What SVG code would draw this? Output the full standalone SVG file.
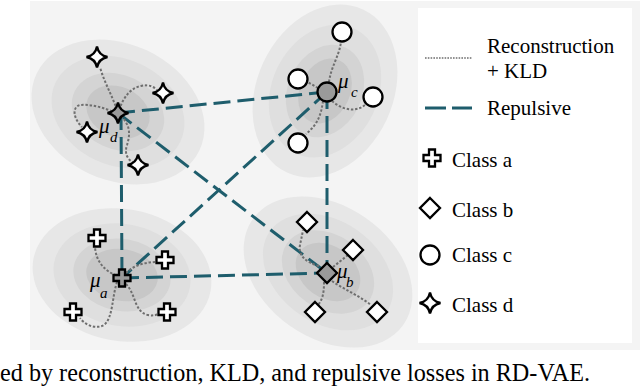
<svg xmlns="http://www.w3.org/2000/svg" width="640" height="386" viewBox="0 0 640 386">
<defs>
<style>
.l1{fill:#e7e7e7}.l2{fill:#dfdfdf}.l3{fill:#d4d4d4}.l4{fill:#c7c7c7}
.rep{fill:none;stroke:#1e5d6c;stroke-width:3;stroke-dasharray:17 7}
.dot{fill:none;stroke:#6e6e6e;stroke-width:2;stroke-dasharray:2.4 1.8}
.sym{fill:#fff;stroke:#000;stroke-width:2.3;stroke-linejoin:miter}
.mean{fill:#9a9a9a;stroke:#000;stroke-width:2.3}
</style>
<path id="star" d="M0,-10.5 Q1.7,-1.7 10.5,0 Q1.7,1.7 0,10.5 Q-1.7,1.7 -10.5,0 Q-1.7,-1.7 0,-10.5Z"/>
<path id="cross" d="M-3,-8.5 H3 V-3 H8.5 V3 H3 V8.5 H-3 V3 H-8.5 V-3 H-3Z"/>
<path id="diam" d="M0,-10 L10,0 L0,10 L-10,0Z"/>
</defs>
<rect x="30" y="1" width="610" height="349" fill="#f4f4f4"/>
<rect x="418" y="8" width="214" height="335" fill="#fff"/>

<g id="ellipses">
<g transform="translate(118,112) rotate(25)">
<ellipse class="l1" rx="90" ry="68"/><ellipse class="l2" rx="69" ry="53"/><ellipse class="l3" rx="48" ry="37"/><ellipse class="l4" rx="33" ry="25"/>
</g>
<g transform="translate(325,91) rotate(25)">
<ellipse class="l1" rx="68" ry="90"/><ellipse class="l2" rx="53" ry="69"/><ellipse class="l3" rx="37" ry="48"/><ellipse class="l4" rx="25" ry="34"/>
</g>
<g transform="translate(122,275) rotate(10)">
<ellipse class="l1" rx="90" ry="66"/><ellipse class="l2" rx="69" ry="51"/><ellipse class="l3" rx="49" ry="36"/><ellipse class="l4" rx="36" ry="26"/>
</g>
<g transform="translate(328,272) rotate(35)">
<ellipse class="l1" rx="92" ry="66"/><ellipse class="l2" rx="71" ry="51"/><ellipse class="l3" rx="50" ry="37"/><ellipse class="l4" rx="35" ry="26"/>
</g>
</g>

<g id="connectors">
<line class="rep" x1="118" y1="113" x2="327" y2="92"/>
<line class="rep" x1="121" y1="113" x2="122" y2="278"/>
<line class="rep" x1="118" y1="113" x2="327" y2="273"/>
<line class="rep" x1="327" y1="92" x2="122" y2="278"/>
<line class="rep" x1="327" y1="92" x2="327" y2="273"/>
<line class="rep" x1="122" y1="278" x2="327" y2="273"/>
<path class="dot" d="M117,110 C112,95 104,82 100,67"/>
<path class="dot" d="M119,110 C124,96 131,88 141,86 C149,84 154,87 157,90"/>
<path class="dot" d="M116,113 C105,108 92,104 80,105 C72,107 73,118 82,127"/>
<path class="dot" d="M121,116 C131,126 130,135 127,145 C124,154 128,160 134,163"/>
<path class="dot" d="M329,82 C331,66 340,55 341,41"/>
<path class="dot" d="M318,88 L306,81"/>
<path class="dot" d="M332,101 C342,110 357,113 366,104"/>
<path class="dot" d="M323,101 C321,115 318,124 306,134"/>
<path class="dot" d="M120,277 C105,272 96,262 95,247"/>
<path class="dot" d="M126,273 C134,265 146,262 157,262"/>
<path class="dot" d="M117,282 C112,297 113,318 104,325 C95,330 84,324 80,318"/>
<path class="dot" d="M126,284 C136,294 134,312 148,315 C153,316 156,315 159,314"/>
<path class="dot" d="M319,266 C305,262 298,255 300,245 C301,240 302,236 303,230"/>
<path class="dot" d="M333,267 L348,255"/>
<path class="dot" d="M324,282 C324,292 323,299 318,305"/>
<path class="dot" d="M332,281 C345,290 360,296 371,305"/>
</g>

<g font-family="'Liberation Serif','Times New Roman',serif" font-style="italic" fill="#000">
<g id="class-d">
<use href="#star" class="sym" x="97" y="57"/>
<use href="#star" class="sym" x="163" y="93"/>
<use href="#star" class="sym" x="87" y="132"/>
<use href="#star" class="sym" x="138" y="165"/>
<use href="#star" class="mean" x="118" y="113"/>
<text x="99" y="133" font-size="21">μ</text><text x="110" y="142" font-size="15">d</text>
</g>
<g id="class-c">
<circle class="sym" cx="342" cy="32" r="9.5"/>
<circle class="sym" cx="298" cy="79" r="9.5"/>
<circle class="sym" cx="373" cy="97" r="9.5"/>
<circle class="sym" cx="298" cy="143" r="9.5"/>
<circle class="mean" cx="327" cy="92" r="9.5"/>
<text x="338" y="88" font-size="21">μ</text><text x="351" y="97" font-size="15">c</text>
</g>
<g id="class-a">
<use href="#cross" class="sym" x="97" y="238"/>
<use href="#cross" class="sym" x="165" y="260"/>
<use href="#cross" class="sym" x="73" y="312"/>
<use href="#cross" class="sym" x="167" y="312"/>
<use href="#cross" class="mean" x="122" y="278"/>
<text x="90" y="287" font-size="21">μ</text><text x="100" y="298" font-size="15">a</text>
</g>
<g id="class-b">
<use href="#diam" class="sym" x="307" y="222"/>
<use href="#diam" class="sym" x="353" y="250"/>
<use href="#diam" class="sym" x="315" y="312"/>
<use href="#diam" class="sym" x="377" y="312"/>
<use href="#diam" class="mean" x="327" y="273"/>
<text x="337" y="278" font-size="21">μ</text><text x="346" y="287" font-size="15">b</text>
</g>
</g>

<g id="legend" font-family="'Liberation Serif','Times New Roman',serif" font-size="21" fill="#000">
<line class="dot" x1="425" y1="58" x2="472" y2="58" style="stroke-width:1.3;stroke-dasharray:1.6 1.2"/>
<text x="487" y="53">Reconstruction</text>
<text x="487" y="78">+ KLD</text>
<line class="rep" x1="425" y1="108" x2="472" y2="108" style="stroke-dasharray:21 6"/>
<text x="487" y="115">Repulsive</text>
<use href="#cross" class="sym" x="432" y="158"/>
<text x="452" y="167">Class a</text>
<use href="#diam" class="sym" x="430" y="208"/>
<text x="452" y="217">Class b</text>
<circle class="sym" cx="430" cy="255" r="9.5"/>
<text x="452" y="262">Class c</text>
<use href="#star" class="sym" x="430" y="303"/>
<text x="452" y="312">Class d</text>
</g>

<text x="0" y="381" font-family="'Liberation Serif','Times New Roman',serif" font-size="24.2" fill="#000">ed by reconstruction, KLD, and repulsive losses in RD-VAE.</text>
</svg>
